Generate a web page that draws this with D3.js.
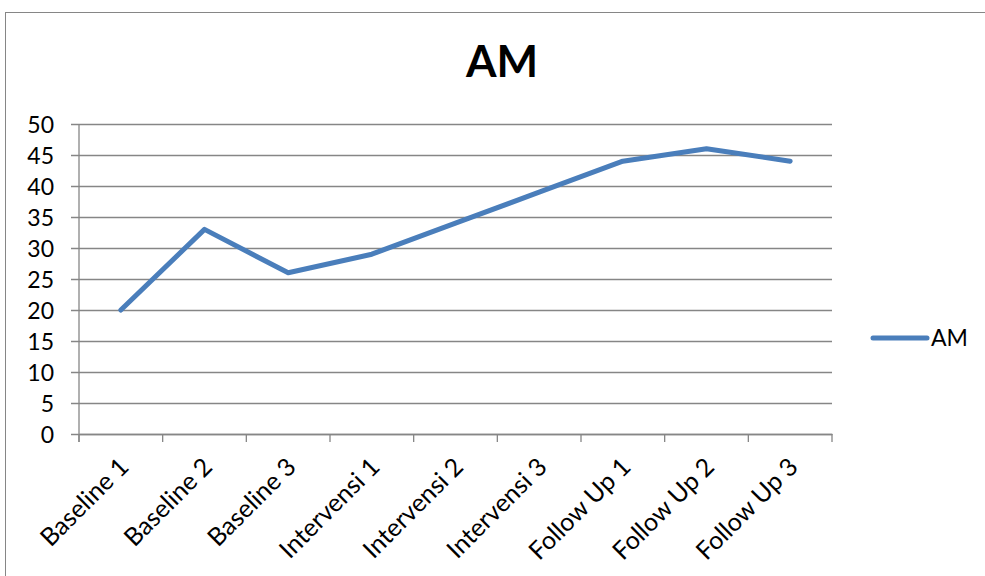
<!DOCTYPE html>
<html>
<head>
<meta charset="utf-8">
<script src="https://cdn.jsdelivr.net/npm/d3@7"></script>
<style>
  html, body { margin: 0; padding: 0; background: #fff; }
  svg { display: block; }
  text { font-family: Lato, "Open Sans", sans-serif; fill: #000; }
</style>
</head>
<body>
<script>
// Chart data
const categories = ["Baseline 1", "Baseline 2", "Baseline 3", "Intervensi 1", "Intervensi 2",
                    "Intervensi 3", "Follow Up 1", "Follow Up 2", "Follow Up 3"];
const amValues = [20, 33, 26, 29, 34, 39, 44, 46, 44];
const yTicks = [0, 5, 10, 15, 20, 25, 30, 35, 40, 45, 50];
const seriesName = "AM";
const chartTitle = "AM";

const W = 985, H = 576;
const plot = { left: 79, right: 832, top: 124, bottom: 434 };
const lineColor = "#4a7ebb";
const axisColor = "#868686";
const labelSize = "23px";

const svg = d3.select("body").append("svg").attr("width", W).attr("height", H);

// outer chart frame
svg.append("rect")
  .attr("x", 5.5).attr("y", 12.5)
  .attr("width", 1000).attr("height", 700)
  .attr("fill", "none").attr("stroke", axisColor).attr("stroke-width", 1);

// title
svg.append("text")
  .attr("x", 502).attr("y", 77)
  .attr("text-anchor", "middle")
  .style("font-size", "44px").style("font-weight", "bold")
  .text(chartTitle);

const x = d3.scaleBand().domain(categories).range([plot.left, plot.right]);
const y = d3.scaleLinear().domain([0, 50]).range([plot.bottom, plot.top]);

// horizontal gridlines with outward ticks
const yAxis = svg.append("g")
  .attr("transform", `translate(${plot.left},0)`)
  .call(d3.axisLeft(y).tickValues(yTicks).tickSize(-(plot.right - plot.left)).tickSizeOuter(0));
yAxis.select(".domain").remove();
yAxis.selectAll(".tick line")
  .attr("x1", -8)
  .attr("stroke", axisColor).attr("stroke-width", 1.3);
yAxis.selectAll(".tick text")
  .style("font-size", labelSize).attr("x", -25).attr("dy", "0.36em");

// vertical axis line
svg.append("line")
  .attr("x1", plot.left).attr("x2", plot.left)
  .attr("y1", plot.top).attr("y2", plot.bottom + 8)
  .attr("stroke", axisColor).attr("stroke-width", 1.3);

// category axis
const xAxis = svg.append("g")
  .attr("transform", `translate(0,${plot.bottom})`)
  .call(d3.axisBottom(x).tickSize(0).tickFormat(""));
xAxis.select(".domain").attr("stroke", axisColor).attr("stroke-width", 1.3);

// tick marks at band boundaries
const bounds = categories.map(c => x(c)).concat([plot.right]);
svg.append("g").selectAll("line").data(bounds).join("line")
  .attr("x1", d => d).attr("x2", d => d)
  .attr("y1", plot.bottom).attr("y2", plot.bottom + 8)
  .attr("stroke", axisColor).attr("stroke-width", 1.3);

// rotated category labels
svg.append("g").selectAll("text").data(categories).join("text")
  .attr("transform", d => `translate(${x(d) + x.bandwidth() / 2 - 3},${plot.bottom + 22}) rotate(-45)`)
  .attr("text-anchor", "end")
  .attr("dy", "0.7em")
  .style("font-size", "25px")
  .text(d => d);

// data line
const line = d3.line()
  .x((d, i) => x(categories[i]) + x.bandwidth() / 2)
  .y(d => y(d));
svg.append("path")
  .datum(amValues)
  .attr("d", line)
  .attr("fill", "none")
  .attr("stroke", lineColor)
  .attr("stroke-width", 5)
  .attr("stroke-linejoin", "round")
  .attr("stroke-linecap", "round");

// legend
const legend = svg.append("g").attr("transform", "translate(873,338)");
legend.append("line")
  .attr("x1", 0).attr("x2", 54).attr("y1", 0).attr("y2", 0)
  .attr("stroke", lineColor).attr("stroke-width", 5).attr("stroke-linecap", "round");
legend.append("text")
  .attr("x", 58).attr("y", 0).attr("dy", "0.36em")
  .style("font-size", labelSize)
  .text(seriesName);
</script>
</body>
</html>
